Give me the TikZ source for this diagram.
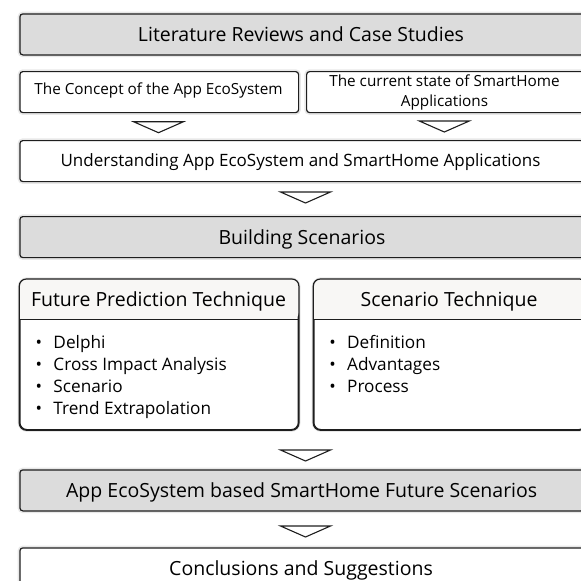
\documentclass[tikz,border=0pt]{standalone}
\usepackage{fontspec}
\setmainfont{Open Sans}
\usetikzlibrary{positioning}

\definecolor{boxgray}{HTML}{DCDCDC}
\definecolor{hdrwhite}{HTML}{F8F7F5}
\definecolor{edge}{HTML}{1E1E1E}

\tikzset{
  halo/.style={preaction={draw=black!9, line width=4.5pt}},
  stage/.style={draw=edge, line width=1.2pt, rounded corners=3pt, fill=boxgray, halo,
    anchor=north west, minimum width=564pt, minimum height=41pt, inner sep=0pt},
  plainstage/.style={stage, fill=white},
  techbox/.style={draw=edge, line width=1.2pt, rounded corners=7pt, fill=white, halo,
    anchor=north west, minimum height=150pt, inner sep=0pt},
  bigtxt/.style={font=\fontsize{19.5}{22}\selectfont, inner sep=0pt, anchor=base},
  smalltxt/.style={font=\fontsize{15.3}{19}\selectfont, inner sep=0pt, anchor=base},
  itemtxt/.style={font=\fontsize{17.2}{22}\selectfont, inner sep=0pt, anchor=base west},
  flow/.style={draw=edge, line width=1.1pt, fill=white, line join=miter}
}
% open triangle pointing down: centre x, top y
\newcommand{\flowtri}[2]{\draw[flow] (#1-25,#2) -- (#1+25,#2) -- (#1,#2+11) -- cycle;}

\begin{document}
\begin{tikzpicture}[x=1pt,y=-1pt]
\useasboundingbox (0,0) rectangle (581,581);
\clip (0,0) rectangle (581,581);

% literature
\node[stage] (lit) at (19.3,13.3) {};
\node[bigtxt] (littxt) at (301,41) {Literature Reviews and Case Studies};

\node[plainstage, minimum width=278.7pt] (concept) at (19.3,71) {};
\node[smalltxt] (concepttxt) at (158.5,94.5) {The Concept of the App EcoSystem};
\node[plainstage, minimum width=280pt] (state) at (306,71) {};
\node[smalltxt] (statetxt1) at (444.5,86.7) {The current state of SmartHome};
\node[smalltxt] (statetxt2) at (444.5,106) {Applications};

\flowtri{158.5}{121.7}
\flowtri{444.3}{121}

\node[plainstage] (underst) at (19.3,140) {};
\node[bigtxt, font=\fontsize{17}{20}\selectfont] (understtxt) at (300.5,166) {Understanding App EcoSystem and SmartHome Applications};

\flowtri{305.5}{192}

% building scenarios
\node[stage] (build) at (19.3,216) {};
\node[bigtxt] (buildtxt) at (302,244) {Building Scenarios};

\node[techbox, minimum width=278.4pt] (fpt) at (19.3,279) {};
\fill[hdrwhite] ([yshift=-40.3pt]fpt.north west) [rounded corners=7pt] |- (fpt.north) -| ([yshift=-40.3pt]fpt.north east) [sharp corners] -- cycle;
\draw[draw=edge, line width=1.2pt, rounded corners=7pt] (fpt.north west) rectangle (fpt.south east);
\draw[draw=edge, line width=1.2pt] ([yshift=-40.3pt]fpt.north west) -- ([yshift=-40.3pt]fpt.north east);
\node[bigtxt] (fpthdr) at (158.5,306) {Future Prediction Technique};
\foreach \entry [count=\i] in {Delphi, Cross Impact Analysis, Scenario, Trend Extrapolation}
  \node[itemtxt] (fptitem\i) at (35.5,326+22*\i) {\makebox[17.8pt][l]{•}\entry};

\node[techbox, minimum width=272pt] (st) at (313.3,279) {};
\fill[hdrwhite] ([yshift=-40.3pt]st.north west) [rounded corners=7pt] |- (st.north) -| ([yshift=-40.3pt]st.north east) [sharp corners] -- cycle;
\draw[draw=edge, line width=1.2pt, rounded corners=7pt] (st.north west) rectangle (st.south east);
\draw[draw=edge, line width=1.2pt] ([yshift=-40.3pt]st.north west) -- ([yshift=-40.3pt]st.north east);
\node[bigtxt] (sthdr) at (449,306) {Scenario Technique};
\foreach \entry [count=\i] in {Definition, Advantages, Process}
  \node[itemtxt] (stitem\i) at (329.2,326+22*\i) {\makebox[17.8pt][l]{•}\entry};

\flowtri{305.5}{450}

% future scenarios
\node[stage] (future) at (19.3,469.3) {};
\node[bigtxt] (futuretxt) at (301.7,497.5) {App EcoSystem based SmartHome Future Scenarios};

\flowtri{305.5}{526}

\node[plainstage] (concl) at (19.3,547.3) {};
\node[bigtxt] (concltxt) at (301,575) {Conclusions and Suggestions};
\end{tikzpicture}
\end{document}
